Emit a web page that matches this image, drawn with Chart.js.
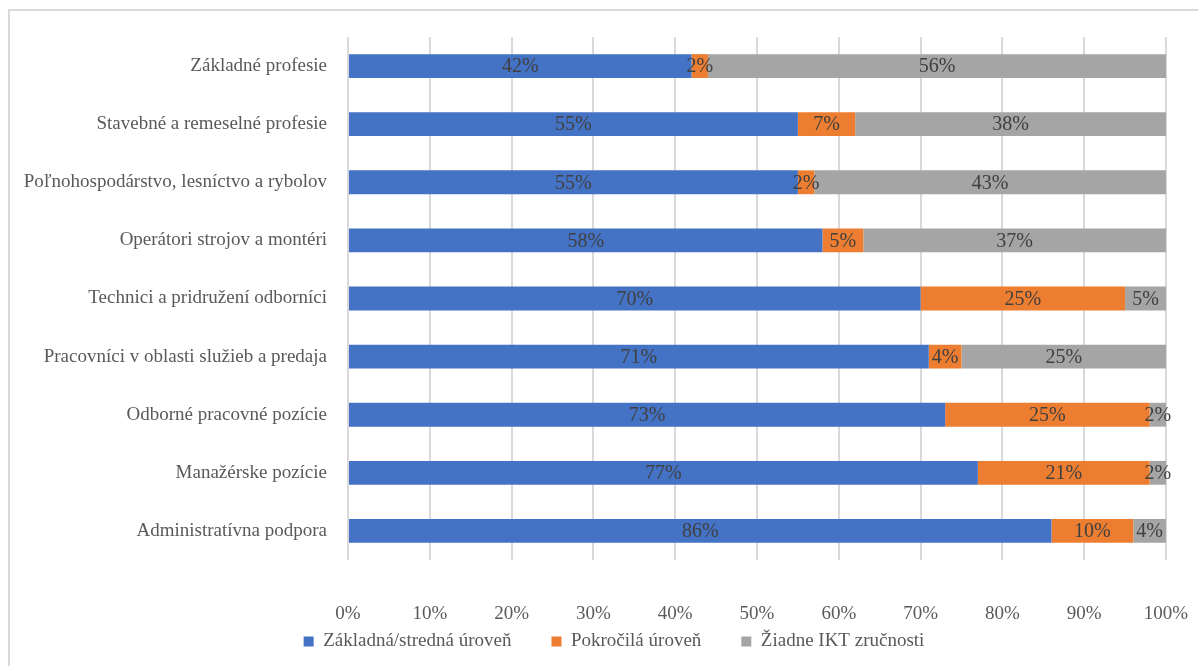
<!DOCTYPE html>
<html>
<head>
<meta charset="utf-8">
<script src="https://cdn.jsdelivr.net/npm/chart.js@4.4.0/dist/chart.umd.min.js"></script>
<style>
  body { margin: 0; background: #fff; overflow: hidden; }
  #frame { position: absolute; left: 8px; top: 9px; width: 1400px; height: 800px;
           border-top: 2px solid #d9d9d9; border-left: 2px solid #d9d9d9; }
  #performanceChart { position: absolute; left: 0; top: 0; }
</style>
</head>
<body>
<div id="frame"></div>
<canvas id="performanceChart" width="1228" height="696"></canvas>
<script>
const categories = [
    "Základné profesie",
    "Stavebné a remeselné profesie",
    "Poľnohospodárstvo, lesníctvo a rybolov",
    "Operátori strojov a montéri",
    "Technici a pridružení odborníci",
    "Pracovníci v oblasti služieb a predaja",
    "Odborné pracovné pozície",
    "Manažérske pozície",
    "Administratívna podpora"
];
const seriesNames = ["Základná/stredná úroveň", "Pokročilá úroveň", "Žiadne IKT zručnosti"];
const basicValues = [42, 55, 55, 58, 70, 71, 73, 77, 86];
const advancedValues = [2, 7, 2, 5, 25, 4, 25, 21, 10];
const noneValues = [56, 38, 43, 37, 5, 25, 2, 2, 4];
const xTicks = [0, 10, 20, 30, 40, 50, 60, 70, 80, 90, 100];

const fontFamily = "'Liberation Serif', 'Times New Roman', serif";

// draws the value in the middle of each bar segment
const barLabels = {
    id: "barLabels",
    afterDatasetsDraw(chart) {
        let ctx = chart.ctx;
        ctx.save();
        ctx.font = "20px " + fontFamily;
        ctx.fillStyle = "#404040";
        ctx.textAlign = "center";
        ctx.textBaseline = "middle";
        chart.data.datasets.forEach((ds, i) => {
            chart.getDatasetMeta(i).data.forEach((bar, j) => {
                ctx.fillText(ds.data[j] + "%", (bar.x + bar.base) / 2, bar.y + 1);
            });
        });
        ctx.restore();
    }
};

// legend padding also pushes the row down, so move it back up under the axis
const legendNudge = {
    id: "legendNudge",
    afterLayout(chart) {
        let lg = chart.legend;
        let dy = 592 - lg.top;
        lg.top += dy;
        lg.bottom += dy;
        lg.left += 31;
        lg.right += 31;
    }
};

let ctx = document.getElementById("performanceChart").getContext("2d");

new Chart(ctx, {
    type: "bar",
    data: {
        labels: categories,
        datasets: [
            { label: seriesNames[0], data: basicValues, backgroundColor: "#4472C4" },
            { label: seriesNames[1], data: advancedValues, backgroundColor: "#ED7D31" },
            { label: seriesNames[2], data: noneValues, backgroundColor: "#A5A5A5" }
        ]
    },
    options: {
        indexAxis: "y",
        responsive: false,
        animation: false,
        layout: { padding: { left: 0, right: 62, top: 37, bottom: 0 } },
        datasets: { bar: { categoryPercentage: 1, barPercentage: 0.41 } },
        scales: {
            x: {
                stacked: true,
                min: 0,
                max: 100,
                afterBuildTicks: (scale) => { scale.ticks = xTicks.map(v => ({ value: v })); },
                afterFit: (scale) => { scale.height = 67; },
                grid: { color: "#d9d9d9", lineWidth: 2, drawTicks: true, tickLength: 39, tickColor: "rgba(0,0,0,0)" },
                border: { display: false },
                ticks: {
                    padding: 4,
                    color: "#595959",
                    font: { family: fontFamily, size: 19 },
                    callback: (value) => value + "%"
                }
            },
            y: {
                stacked: true,
                afterFit: (scale) => { scale.width = 348; },
                grid: { display: false },
                border: { display: false },
                ticks: {
                    padding: 13,
                    color: "#595959",
                    font: { family: fontFamily, size: 19 }
                }
            }
        },
        plugins: {
            legend: {
                position: "bottom",
                labels: {
                    boxWidth: 10,
                    boxHeight: 10,
                    padding: 40,
                    color: "#595959",
                    font: { family: fontFamily, size: 19 }
                }
            },
            tooltip: { enabled: false }
        }
    },
    plugins: [barLabels, legendNudge]
});
</script>
</body>
</html>
